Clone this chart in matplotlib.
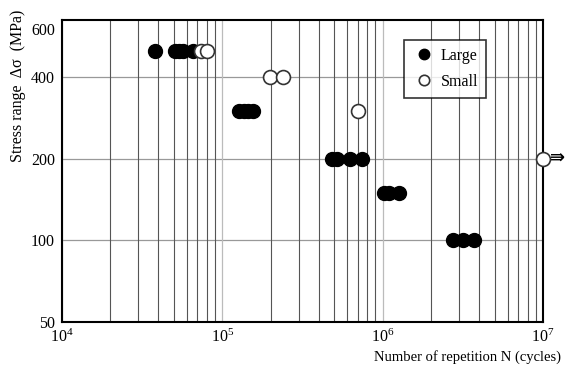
import matplotlib
matplotlib.use("Agg")
import matplotlib.pyplot as plt
from matplotlib.ticker import FixedLocator, NullFormatter, LogLocator

plt.rcParams['font.family'] = ['Liberation Serif', 'DejaVu Serif']
plt.rcParams['mathtext.fontset'] = 'stix'

# Large specimens: cycles, stress range (MPa)
large_n = [3.8e4, 5.1e4, 5.4e4, 5.7e4, 6.6e4,
           1.27e5, 1.37e5, 1.45e5, 1.55e5,
           4.85e5, 5.2e5, 6.25e5, 7.45e5,
           1.02e6, 1.09e6, 1.26e6,
           2.73e6, 3.15e6, 3.7e6]
large_s = [500, 500, 500, 500, 500,
           300, 300, 300, 300,
           200, 200, 200, 200,
           150, 150, 150,
           100, 100, 100]

# Small specimens
small_n = [7.4e4, 8.0e4, 1.97e5, 2.39e5, 7.0e5, 1.0e7]
small_s = [500, 500, 400, 400, 300, 200]

# run-out (no failure)
runout_n = [1.0e7]
runout_s = [200]

fig = plt.figure(figsize=(5.84, 3.71), dpi=100)
ax = fig.add_axes([0.106, 0.132, 0.824, 0.814])

ax.plot(large_n, large_s, 'o', ms=10, mfc='black', mec='black', ls='none',
        label='Large', zorder=3, clip_on=False)
ax.plot(small_n, small_s, 'o', ms=10, mfc='white', mec='#333333', mew=1.2,
        ls='none', label='Small', zorder=4, clip_on=False)
for n, s in zip(runout_n, runout_s):
    ax.annotate('⇛', xy=(n, s), xytext=(5, 0), textcoords='offset points',
                fontsize=13, fontweight='bold', va='center', ha='left',
                family='DejaVu Sans', annotation_clip=False)

ax.set_xscale('log')
ax.set_yscale('log')
ax.set_xlim(1e4, 1e7)
ax.set_ylim(50, 650)

ax.xaxis.set_major_locator(LogLocator(base=10))
ax.xaxis.set_minor_locator(LogLocator(base=10, subs=range(2, 10)))
ax.xaxis.set_minor_formatter(NullFormatter())
ax.yaxis.set_major_locator(FixedLocator([50, 100, 200, 400, 600]))
ax.yaxis.set_minor_locator(FixedLocator([]))
ax.set_yticklabels(['50', '100', '200', '400', '600'])

ax.grid(True, which='minor', axis='x', color='#555555', lw=0.8)
ax.grid(True, which='major', axis='x', color='#bbbbbb', lw=0.9)
for v in [100, 200, 400]:
    ax.axhline(v, color='#999999', lw=0.9, zorder=1)

ax.tick_params(which='both', length=0, labelsize=11.5, pad=5)
for sp in ax.spines.values():
    sp.set_linewidth(1.5)
    sp.set_color('black')

fig.text(0.031, 0.77, 'Stress range  Δσ  (MPa)', rotation=90, fontsize=11.5,
         ha='center', va='center')
fig.text(0.96, 0.038, 'Number of repetition N (cycles)', fontsize=10.5,
         ha='right', va='center')

leg = ax.legend(loc='upper left', bbox_to_anchor=(0.711, 0.934), fontsize=11.5,
                frameon=True, fancybox=False, edgecolor='black',
                borderaxespad=0, handletextpad=0.3, handlelength=1.5,
                borderpad=0.5, labelspacing=0.6, markerscale=0.75)
leg.get_frame().set_linewidth(1.2)

fig.savefig('out.png', dpi=100)
